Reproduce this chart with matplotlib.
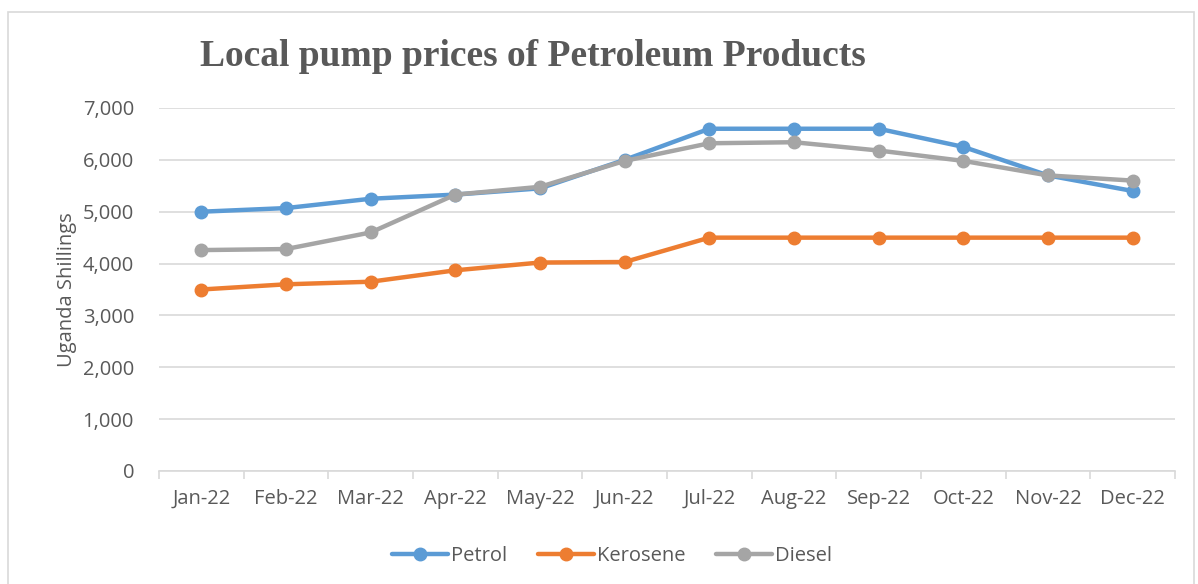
import matplotlib.pyplot as plt
from matplotlib.patches import Rectangle
from matplotlib.ticker import FuncFormatter, MultipleLocator

months = ['Jan-22', 'Feb-22', 'Mar-22', 'Apr-22', 'May-22', 'Jun-22',
          'Jul-22', 'Aug-22', 'Sep-22', 'Oct-22', 'Nov-22', 'Dec-22']
petrol = [5000, 5070, 5250, 5330, 5450, 6000, 6600, 6600, 6600, 6250, 5700, 5400]
kerosene = [3500, 3600, 3650, 3870, 4020, 4030, 4500, 4500, 4500, 4500, 4500, 4500]
diesel = [4260, 4280, 4600, 5330, 5480, 5980, 6320, 6340, 6180, 5980, 5700, 5600]

text_col = '#595959'
grid_col = '#D9D9D9'

fig = plt.figure(figsize=(11.98, 5.84), dpi=100)
fig.patches.append(Rectangle((8 / 1198, -0.01), 1186 / 1198, 1 - 12 / 584 + 0.01,
                             transform=fig.transFigure, fill=False,
                             edgecolor='#D9D9D9', linewidth=1.2))

ax = fig.add_axes([159 / 1198, 1 - 471 / 584, (1175 - 159) / 1198, (471 - 108) / 584])
x = list(range(len(months)))

series = [('Petrol', petrol, '#5B9BD5'),
          ('Kerosene', kerosene, '#ED7D31'),
          ('Diesel', diesel, '#A5A5A5')]
for name, vals, col in series:
    ax.plot(x, vals, color=col, linewidth=3.2, marker='o', markersize=9,
            label=name, solid_capstyle='round')

ax.set_ylim(0, 7000)
ax.set_xlim(-0.5, 11.5)
ax.yaxis.set_major_locator(MultipleLocator(1000))
ax.yaxis.set_major_formatter(FuncFormatter(lambda v, p: f'{int(v):,}'))
ax.grid(axis='y', color=grid_col, linewidth=1.2)
ax.set_axisbelow(True)

fs = 14.5
ax.set_xticks(x)
ax.set_xticklabels(months)
ax.set_xticks([i - 0.5 for i in range(13)], minor=True)
ax.tick_params(axis='x', which='major', length=0, pad=13, labelsize=fs, labelcolor=text_col)
ax.tick_params(axis='x', which='minor', length=6, color=grid_col, width=1.2)
ax.tick_params(axis='y', length=0, pad=18, labelsize=fs, labelcolor=text_col)
for lab in ax.get_xticklabels() + ax.get_yticklabels():
    lab.set_family('Open Sans')

for s in ['top', 'right', 'left']:
    ax.spines[s].set_visible(False)
ax.spines['bottom'].set_color(grid_col)
ax.spines['bottom'].set_linewidth(1.2)

ax.set_ylabel('Uganda Shillings', fontsize=fs, color=text_col, family='Open Sans', labelpad=4)

fig.text(533 / 1198, 1 - 57 / 584, 'Local pump prices of Petroleum Products',
         ha='center', va='center', fontsize=27, fontweight='bold',
         family='Liberation Serif', color=text_col)

leg = ax.legend(loc='center', bbox_to_anchor=(612 / 1198, 1 - 556 / 584),
                bbox_transform=fig.transFigure, ncol=3, frameon=False,
                prop={'family': 'Open Sans', 'size': fs}, handlelength=2.8,
                columnspacing=1.5, handletextpad=0.15)
for t in leg.get_texts():
    t.set_color(text_col)

fig.savefig('out.png', dpi=100)
